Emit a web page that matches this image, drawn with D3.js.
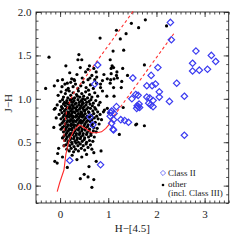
<!DOCTYPE html>
<html>
<head>
<meta charset="utf-8">
<script src="https://cdn.jsdelivr.net/npm/d3@7"></script>
<style>
  body { margin: 0; background: #fff; }
  svg text { font-family: "Liberation Serif", serif; }
</style>
</head>
<body>
<div id="chart"></div>
<script>
// axis ranges and ticks
var xDomain = [-0.5, 3.5];
var yDomain = [-0.2, 2.0];
var xMajor = [0, 1, 2, 3];
var yMajor = [0.0, 0.5, 1.0, 1.5, 2.0];

// intrinsic locus (solid) and reddening vectors (dashed)
var locus = [[-0.06,-0.07],[-0.01,0.03],[0.08,0.18],[0.12,0.36],[0.18,0.51],[0.28,0.63],[0.39,0.70],
  [0.46,0.68],[0.55,0.65],[0.66,0.61],[0.76,0.61],[0.86,0.62],[0.95,0.66],[1.01,0.70],[1.05,0.76]];
var redden1 = [[0.08,0.44],[0.08,0.63],[0.14,0.88],[0.26,1.05],[0.42,1.17],[1.52,2.01]];
var redden2 = [[1.05,0.75],[2.36,1.75]];

// Class II sources
var classII = [[0.78,1.39],[0.72,1.17],[0.62,0.79],[0.68,0.70],[0.20,0.29],[0.84,0.24],[1.05,0.84],
  [1.07,0.72],[1.10,0.65],[1.17,0.91],[1.07,0.86],[1.12,0.83],[1.04,0.80],[1.11,0.76],[1.26,0.76],
  [1.34,0.75],[1.42,0.73],[1.11,0.64],[2.29,1.88],[2.31,1.68],[2.82,1.55],[3.14,1.50],[3.23,1.43],
  [2.75,1.41],[2.75,1.32],[2.89,1.33],[3.06,1.34],[2.03,1.36],[1.51,1.24],[1.89,1.27],[2.42,1.18],
  [1.80,1.15],[1.91,1.15],[1.98,1.17],[2.06,1.08],[2.06,1.02],[2.58,1.03],[2.27,0.97],[1.57,1.05],
  [1.62,1.04],[1.49,1.00],[1.80,1.02],[1.86,1.01],[1.93,0.98],[1.64,0.94],[1.62,0.91],[1.59,0.89],
  [1.84,0.95],[1.93,0.91],[1.88,0.93],[1.60,0.92],[1.65,0.90],[2.58,0.58]];

// other sources (incl. Class III)
var other = [
  [-0.23,1.48],[0.39,1.51],[0.37,1.45],[0.45,1.45],[0.83,1.70],[-0.30,1.12],[0.58,1.34],[0.53,1.31],
  [0.61,1.38],[1.48,1.87],[1.77,1.91],[1.17,1.79],[1.37,1.75],[1.63,1.82],[1.25,1.69],[1.10,1.55],
  [1.32,1.56],[1.04,1.45],[1.08,1.38],[1.11,1.36],[1.06,1.35],[1.30,1.35],[1.18,1.31],[1.75,1.39],
  [2.21,1.84],[1.28,1.20],[1.27,1.13],[1.31,0.90],[1.57,0.70],[1.59,0.71],[1.75,0.69],[0.91,1.28],
  [1.40,1.27],[1.23,0.59],[0.70,1.35],[0.75,1.31],[0.76,1.25],[0.98,1.23],[1.19,1.24],[1.06,1.29],
  [1.17,1.27],[1.12,1.23],[0.84,1.17],[0.84,1.13],[0.88,1.09],[1.04,1.18],[1.11,1.13],[0.97,1.03],
  [1.12,1.03],[0.98,0.89],[0.90,0.85],[1.01,0.84],[0.86,0.76],
  [-0.12,0.88],[-0.11,0.28],[0.15,0.21],[0.42,0.08],[0.50,0.13],[0.58,0.10],[0.66,-0.02],[0.70,0.07],
  [0.60,0.22],[0.75,0.28],[0.05,0.33],[0.25,0.35],[0.35,0.30],[0.45,0.33],[0.55,0.36],[0.70,0.38],
  [0.85,0.40],[-0.05,0.37],[-0.10,0.89],[-0.13,0.67],[-0.06,0.26],[-0.03,0.43],
  [0.04,1.14],[0.10,1.17],[0.17,1.12],[0.22,1.19],[0.27,1.14],[0.32,1.17],[0.37,1.12],[0.43,1.15],
  [0.48,1.19],[0.54,1.13],[0.63,1.16],[0.69,1.12],[0.76,1.18],[0.15,1.18],[0.29,1.22],[0.46,1.24],
  [0.05,1.22],[-0.12,1.15],[0.66,1.27],[0.35,1.28],[0.20,1.30],[0.42,1.36],[0.12,1.38],[0.72,1.22],
  [-0.05,1.21],[0.24,1.23],[0.30,1.21],[0.58,1.22],[0.62,1.24],[0.88,1.21],[1.05,1.22],
  [0.02,1.08],[0.07,1.02],[0.11,1.06],[0.16,1.01],[0.19,1.09],[0.22,1.04],[0.27,1.07],[0.30,1.01],
  [0.34,1.05],[0.38,1.09],[0.41,1.02],[0.45,1.06],[0.49,1.03],[0.53,1.08],[0.57,1.01],[0.61,1.05],
  [0.66,1.02],[0.72,1.07],[0.78,1.03],[0.25,1.00],[0.36,1.03],[0.47,1.00],[-0.04,1.04],[0.13,1.10],
  [0.59,1.10],
  [0.00,0.97],[0.05,0.99],[0.09,0.96],[0.14,0.98],[0.18,0.95],[0.21,0.99],[0.26,0.96],[0.29,0.98],
  [0.33,0.95],[0.37,0.99],[0.40,0.96],[0.44,0.98],[0.48,0.95],[0.52,0.99],[0.55,0.96],[0.60,0.97],
  [0.64,0.99],[0.69,0.95],[0.74,0.98],[0.83,0.96],[0.23,0.97],[0.46,0.97],
  [-0.06,0.93],[0.03,0.91],[0.07,0.94],[0.11,0.92],[0.15,0.90],[0.17,0.94],[0.20,0.91],[0.24,0.93],
  [0.28,0.90],[0.31,0.94],[0.35,0.91],[0.39,0.93],[0.42,0.90],[0.46,0.94],[0.50,0.91],[0.54,0.93],
  [0.58,0.90],[0.62,0.94],[0.67,0.92],[0.72,0.90],[0.80,0.93],[0.27,0.92],[0.44,0.92],[0.13,0.95],
  [0.01,0.87],[0.05,0.89],[0.09,0.86],[0.12,0.88],[0.16,0.85],[0.19,0.89],[0.22,0.86],[0.25,0.88],
  [0.29,0.85],[0.32,0.89],[0.36,0.86],[0.40,0.88],[0.43,0.85],[0.47,0.89],[0.51,0.86],[0.55,0.88],
  [0.59,0.85],[0.63,0.89],[0.68,0.86],[0.74,0.88],[0.78,0.85],[0.21,0.90],[0.34,0.87],[0.49,0.87],
  [0.92,0.87],
  [-0.02,0.82],[0.04,0.84],[0.08,0.81],[0.11,0.83],[0.14,0.80],[0.18,0.84],[0.21,0.81],[0.24,0.83],
  [0.27,0.80],[0.31,0.84],[0.34,0.81],[0.38,0.83],[0.41,0.80],[0.45,0.84],[0.48,0.81],[0.52,0.83],
  [0.56,0.80],[0.60,0.84],[0.65,0.81],[0.70,0.83],[0.76,0.80],[0.83,0.82],[0.26,0.85],[0.43,0.82],
  [0.16,0.82],
  [0.02,0.77],[0.06,0.79],[0.09,0.76],[0.13,0.78],[0.16,0.75],[0.19,0.79],[0.22,0.76],[0.26,0.78],
  [0.29,0.75],[0.32,0.79],[0.36,0.76],[0.39,0.78],[0.43,0.75],[0.46,0.79],[0.50,0.76],[0.53,0.78],
  [0.57,0.75],[0.61,0.79],[0.66,0.76],[0.71,0.78],[0.79,0.77],[0.24,0.80],[0.35,0.80],[0.48,0.80],
  [-0.08,0.78],
  [0.04,0.72],[0.07,0.74],[0.11,0.71],[0.14,0.73],[0.17,0.70],[0.20,0.74],[0.23,0.71],[0.27,0.73],
  [0.30,0.70],[0.33,0.74],[0.37,0.71],[0.40,0.73],[0.44,0.72],[0.47,0.74],[0.51,0.71],[0.54,0.73],
  [0.58,0.70],[0.62,0.74],[0.67,0.71],[0.73,0.73],[0.81,0.71],[0.25,0.75],[0.42,0.75],[0.00,0.70],
  [0.05,0.67],[0.09,0.69],[0.12,0.66],[0.15,0.68],[0.19,0.65],[0.22,0.69],[0.25,0.66],[0.29,0.68],
  [0.32,0.65],[0.35,0.69],[0.39,0.66],[0.43,0.68],[0.46,0.65],[0.50,0.69],[0.53,0.66],[0.57,0.68],
  [0.61,0.65],[0.65,0.69],[0.70,0.67],[0.77,0.66],[0.27,0.70],[0.02,0.65],
  [0.07,0.62],[0.11,0.64],[0.14,0.61],[0.17,0.63],[0.21,0.60],[0.24,0.64],[0.28,0.61],[0.31,0.63],
  [0.34,0.60],[0.38,0.64],[0.41,0.61],[0.45,0.63],[0.48,0.60],[0.52,0.64],[0.56,0.61],[0.60,0.63],
  [0.64,0.60],[0.69,0.63],[0.75,0.62],[0.20,0.65],
  [0.08,0.57],[0.12,0.59],[0.15,0.56],[0.19,0.58],[0.22,0.55],[0.26,0.59],[0.29,0.56],[0.33,0.58],
  [0.36,0.55],[0.40,0.59],[0.43,0.56],[0.47,0.58],[0.51,0.55],[0.55,0.59],[0.59,0.56],[0.64,0.58],
  [0.71,0.56],[0.24,0.60],
  [0.10,0.52],[0.13,0.54],[0.17,0.51],[0.21,0.53],[0.24,0.50],[0.28,0.54],[0.31,0.51],[0.35,0.53],
  [0.38,0.50],[0.42,0.54],[0.46,0.51],[0.50,0.53],[0.55,0.50],[0.61,0.52],[0.68,0.51],[0.05,0.55],
  [0.12,0.47],[0.16,0.49],[0.20,0.46],[0.25,0.48],[0.29,0.45],[0.33,0.49],[0.37,0.46],[0.42,0.48],
  [0.48,0.46],[0.54,0.48],[0.63,0.47],[0.08,0.46],
  [0.14,0.42],[0.19,0.40],[0.23,0.43],[0.28,0.39],[0.32,0.42],[0.38,0.40],[0.44,0.43],[0.51,0.41],
  [0.58,0.44],[0.66,0.42]
];

var W = 240, H = 240;
var margin = {left: 36, right: 11.3, top: 12, bottom: 37};
var serif = '"Liberation Serif", serif';

var svg = d3.select('#chart').append('svg')
  .attr('width', W).attr('height', H);

var x = d3.scaleLinear().domain(xDomain).range([margin.left, W - margin.right]);
var y = d3.scaleLinear().domain(yDomain).range([H - margin.bottom, margin.top]);

var axisColor = '#222';
var xMinor = d3.range(-5, 36).map(function(d){ return d / 10; });
var yMinor = d3.range(-2, 21).map(function(d){ return d / 10; });

function styleAxis(g){
  g.attr('font-family', null).attr('font-size', null);
  g.select('.domain').remove();
  g.selectAll('line').attr('stroke', axisColor).attr('stroke-width', 0.8);
  g.selectAll('text').style('font-family', serif).style('font-size', '11px').attr('fill', axisColor);
}

// minor ticks on all four sides
svg.append('g').attr('transform', 'translate(0,' + y.range()[0] + ')')
  .call(d3.axisBottom(x).tickValues(xMinor).tickSize(-2.5).tickFormat('')).call(styleAxis);
svg.append('g').attr('transform', 'translate(0,' + y.range()[1] + ')')
  .call(d3.axisTop(x).tickValues(xMinor).tickSize(-2.5).tickFormat('')).call(styleAxis);
svg.append('g').attr('transform', 'translate(' + x.range()[0] + ',0)')
  .call(d3.axisLeft(y).tickValues(yMinor).tickSize(-2.5).tickFormat('')).call(styleAxis);
svg.append('g').attr('transform', 'translate(' + x.range()[1] + ',0)')
  .call(d3.axisRight(y).tickValues(yMinor).tickSize(-2.5).tickFormat('')).call(styleAxis);

// major ticks
svg.append('g').attr('transform', 'translate(0,' + y.range()[0] + ')')
  .call(d3.axisBottom(x).tickValues(xMajor).tickSize(-5).tickPadding(7).tickFormat(d3.format('d'))).call(styleAxis);
svg.append('g').attr('transform', 'translate(0,' + y.range()[1] + ')')
  .call(d3.axisTop(x).tickValues(xMajor).tickSize(-5).tickFormat('')).call(styleAxis);
svg.append('g').attr('transform', 'translate(' + x.range()[0] + ',0)')
  .call(d3.axisLeft(y).tickValues(yMajor).tickSize(-5).tickPadding(4.5).tickFormat(d3.format('.1f'))).call(styleAxis);
svg.append('g').attr('transform', 'translate(' + x.range()[1] + ',0)')
  .call(d3.axisRight(y).tickValues(yMajor).tickSize(-5).tickFormat('')).call(styleAxis);

// frame
svg.append('rect')
  .attr('x', x.range()[0]).attr('y', y.range()[1])
  .attr('width', x.range()[1] - x.range()[0])
  .attr('height', y.range()[0] - y.range()[1])
  .attr('fill', 'none').attr('stroke', axisColor).attr('stroke-width', 0.9);

// axis titles
svg.append('text').attr('x', (x.range()[0] + x.range()[1]) / 2).attr('y', 232)
  .attr('text-anchor', 'middle').style('font-family', serif).style('font-size', '11px')
  .attr('fill', axisColor).text('H\u2212[4.5]');
svg.append('text').attr('transform', 'translate(12,' + y(0.95) + ') rotate(-90)')
  .attr('text-anchor', 'middle').style('font-family', serif).style('font-size', '11px')
  .attr('fill', axisColor).text('J\u2212H');

var plot = svg.append('g');

// other stars
plot.selectAll('circle.other').data(other).enter().append('circle')
  .attr('class', 'other')
  .attr('cx', function(d){ return x(d[0]); })
  .attr('cy', function(d){ return y(d[1]); })
  .attr('r', 1.6)
  .attr('fill', '#000');

var line = d3.line().x(function(d){ return x(d[0]); }).y(function(d){ return y(d[1]); });

plot.append('path').datum(locus).attr('d', line)
  .attr('fill', 'none').attr('stroke', '#ff2a2a').attr('stroke-width', 1.1);
[redden1, redden2].forEach(function(r){
  plot.append('path').datum(r).attr('d', line)
    .attr('fill', 'none').attr('stroke', '#ff3030').attr('stroke-width', 1.1)
    .attr('stroke-dasharray', '3,2.5');
});

// class II diamonds
var diamond = 'M0,-3.2L3.2,0L0,3.2L-3.2,0Z';
plot.selectAll('path.c2').data(classII).enter().append('path')
  .attr('class', 'c2')
  .attr('d', diamond)
  .attr('transform', function(d){ return 'translate(' + x(d[0]) + ',' + y(d[1]) + ')'; })
  .attr('fill', 'none').attr('stroke', '#3b3bf0').attr('stroke-width', 1.2);

// legend
var leg = svg.append('g');
leg.append('path').attr('d', 'M0,-2.6L2.6,0L0,2.6L-2.6,0Z')
  .attr('transform', 'translate(163,173)')
  .attr('fill', 'none').attr('stroke', '#6a6af5').attr('stroke-width', 0.9);
leg.append('text').attr('x', 168).attr('y', 176).style('font-family', serif).style('font-size', '9px')
  .attr('fill', axisColor).text('Class II');
leg.append('circle').attr('cx', 163).attr('cy', 185).attr('r', 1.3).attr('fill', '#000');
leg.append('text').attr('x', 168).attr('y', 186.5).style('font-family', serif).style('font-size', '9px')
  .attr('fill', axisColor).text('other');
leg.append('text').attr('x', 168).attr('y', 196.3).style('font-family', serif).style('font-size', '9px')
  .attr('fill', axisColor).text('(incl. Class III)');
</script>
</body>
</html>
